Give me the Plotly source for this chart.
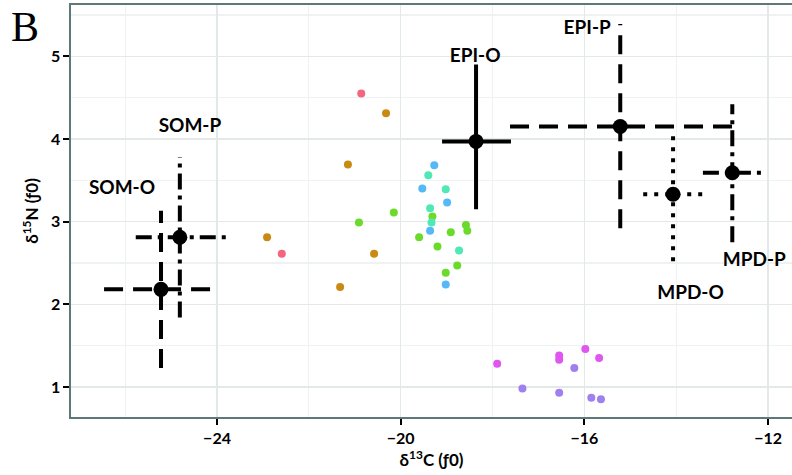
import plotly.graph_objects as go

# ---- colored sample points ----
groups = ["pink", "brown", "green", "teal", "blue", "magenta", "purple"]
group_colors = ["#F4667D", "#C98A14", "#6ADB2A", "#50E8B5", "#55B8F7", "#DE57EE", "#9E80EE"]
pts_x = {
    "pink": [-20.86, -22.59],
    "brown": [-20.32, -21.15, -20.58, -21.32, -22.91],
    "green": [-20.15, -19.31, -20.91, -18.58, -18.55, -18.91, -19.60, -19.20, -18.77, -19.02],
    "teal": [-19.40, -19.02, -19.36, -19.33, -18.73],
    "blue": [-19.27, -19.53, -18.99, -19.36, -19.02],
    "magenta": [-17.90, -16.55, -16.55, -15.98, -15.68],
    "purple": [-16.22, -17.35, -16.55, -15.85, -15.64],
}
pts_y = {
    "pink": [4.55, 2.61],
    "brown": [4.31, 3.69, 2.61, 2.21, 2.81],
    "green": [3.11, 3.06, 2.99, 2.96, 2.89, 2.87, 2.81, 2.70, 2.47, 2.38],
    "teal": [3.56, 3.39, 3.16, 2.99, 2.65],
    "blue": [3.68, 3.40, 3.23, 2.89, 2.24],
    "magenta": [1.28, 1.38, 1.33, 1.46, 1.35],
    "purple": [1.23, 0.98, 0.93, 0.87, 0.85],
}

# ---- group means with ranges ----
sources = ["SOM-O", "SOM-P", "EPI-O", "EPI-P", "MPD-O", "MPD-P"]
mean_x = [-25.22, -24.81, -18.36, -15.22, -14.07, -12.78]
mean_y = [2.18, 2.81, 3.97, 4.15, 3.33, 3.59]
x_low = [-26.46, -25.77, -19.10, -17.62, -14.72, -13.42]
x_high = [-23.98, -23.78, -17.60, -12.72, -13.42, -12.13]
y_low = [1.23, 1.84, 3.15, 2.92, 2.52, 2.75]
y_high = [3.13, 3.78, 4.90, 5.39, 4.09, 4.42]
label_x = [-26.07, -24.59, -18.38, -15.94, -13.69, -12.30]
label_y = [3.39, 4.14, 4.99, 5.33, 2.12, 2.52]
dashes = ["19px,10px", "16px,6px,4px,6px", "solid", "19px,10px", "4px,7px", "16px,6px,4px,6px"]

x_ticks = [-24, -20, -16, -12]
y_ticks = [1, 2, 3, 4, 5]

fig = go.Figure()

for g, c in zip(groups, group_colors):
    fig.add_trace(go.Scatter(
        x=pts_x[g], y=pts_y[g], mode="markers",
        marker=dict(color=c, size=8, line=dict(width=0)),
        showlegend=False, hoverinfo="skip"))

for i, s in enumerate(sources):
    fig.add_trace(go.Scatter(
        x=[x_low[i], x_high[i]], y=[mean_y[i], mean_y[i]], mode="lines",
        line=dict(color="black", width=4, dash=dashes[i]),
        showlegend=False, hoverinfo="skip"))
    fig.add_trace(go.Scatter(
        x=[mean_x[i], mean_x[i]], y=[y_low[i], y_high[i]], mode="lines",
        line=dict(color="black", width=4, dash=dashes[i]),
        showlegend=False, hoverinfo="skip"))

fig.add_trace(go.Scatter(
    x=mean_x, y=mean_y, mode="markers",
    marker=dict(color="black", size=15),
    showlegend=False, hoverinfo="skip"))

fig.add_trace(go.Scatter(
    x=label_x, y=label_y, mode="text", text=sources,
    textfont=dict(family="Lato", size=19, color="black", weight="bold"),
    textposition="middle center",
    showlegend=False, hoverinfo="skip"))

fig.add_annotation(
    x=-0.064, y=0.947, xref="paper", yref="paper", xanchor="center", yanchor="middle",
    text="B", showarrow=False,
    font=dict(family="Liberation Serif", size=42, color="black"))

axis_common = dict(
    showline=True, linecolor="#5E7878", linewidth=1.6,
    ticks="outside", ticklen=6, tickwidth=2, tickcolor="black",
    gridcolor="#E3E9E9", gridwidth=1.3, zeroline=False, automargin=False,
    tickfont=dict(family="Lato", size=16, color="black", weight="bold"),
)

fig.update_xaxes(
    range=[-27.18, -11.48], tickvals=x_ticks, mirror=True,
    minor=dict(dtick=2, tick0=-24, showgrid=True, gridcolor="#EEF2F2", gridwidth=1.2, ticks=""),
    title=dict(text="δ<sup>13</sup>C (ƒ0)", font=dict(family="Lato", size=17, color="black", weight="bold"), standoff=2),
    **axis_common)
fig.update_yaxes(
    range=[0.636, 5.62], tickvals=y_ticks, mirror=False,
    minor=dict(dtick=0.5, tick0=0, showgrid=True, gridcolor="#EEF2F2", gridwidth=1.2, ticks=""),
    title=dict(text="δ<sup>15</sup>N (ƒ0)", font=dict(family="Lato", size=17, color="black", weight="bold"), standoff=8),
    **axis_common)

fig.update_layout(
    width=792, height=475,
    margin=dict(l=71, r=0, t=5, b=58),
    plot_bgcolor="white", paper_bgcolor="white",
    showlegend=False,
)

fig.write_html(
    "out.html",
    config={"displayModeBar": False, "staticPlot": True},
    post_script="document.body.style.margin='0';document.body.style.overflow='hidden';",
)
